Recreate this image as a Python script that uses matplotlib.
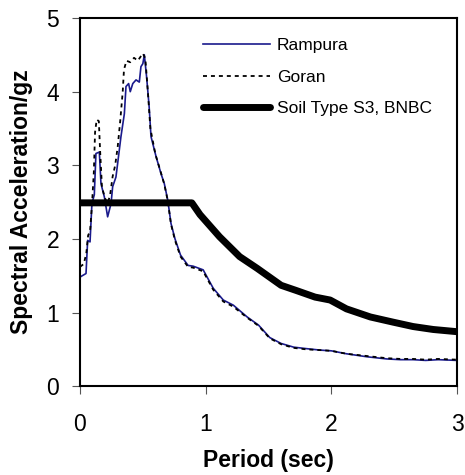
import numpy as np
import matplotlib.pyplot as plt

plt.rcParams['font.family'] = ['Liberation Sans', 'DejaVu Sans']

# Rampura record (period in sec, Sa/g)
ramp_t = [0.0, 0.008, 0.048, 0.061, 0.08, 0.095, 0.114, 0.127, 0.154, 0.167, 0.194,
          0.22, 0.247, 0.26, 0.286, 0.30, 0.326, 0.353, 0.366, 0.387, 0.40, 0.42,
          0.446, 0.472, 0.485, 0.50, 0.512, 0.53, 0.55, 0.565, 0.605, 0.644, 0.671,
          0.698, 0.724, 0.756, 0.80, 0.83, 0.86, 0.90, 0.98, 1.06, 1.14, 1.22, 1.33,
          1.42, 1.51, 1.60, 1.70, 1.80, 1.91, 2.0, 2.12, 2.28, 2.44, 2.55, 2.65,
          2.75, 2.85, 3.0]
ramp_sa = [1.48, 1.49, 1.53, 1.98, 1.96, 2.48, 2.60, 3.16, 3.18, 2.75, 2.57,
           2.30, 2.48, 2.71, 2.84, 3.03, 3.39, 3.70, 4.07, 4.11, 4.00, 4.11,
           4.16, 4.13, 4.34, 4.38, 4.50, 4.20, 3.80, 3.39, 3.12, 2.89, 2.75,
           2.53, 2.21, 2.00, 1.78, 1.71, 1.64, 1.63, 1.58, 1.33, 1.17, 1.10, 0.94,
           0.83, 0.66, 0.58, 0.53, 0.51, 0.49, 0.48, 0.44, 0.40, 0.37, 0.36, 0.36,
           0.35, 0.36, 0.35]

# Goran record
gor_t = [0.0, 0.03, 0.05, 0.065, 0.08, 0.095, 0.11, 0.12, 0.133, 0.15, 0.16,
         0.175, 0.2, 0.22, 0.24, 0.26, 0.28, 0.30, 0.32, 0.34, 0.35, 0.37, 0.40,
         0.43, 0.46, 0.50, 0.52, 0.54, 0.56, 0.60, 0.644, 0.671, 0.698, 0.724,
         0.756, 0.80, 0.83, 0.86, 0.90, 0.98, 1.06, 1.14, 1.22, 1.33, 1.42, 1.51,
         1.60, 1.70, 1.80, 1.91, 2.0, 2.12, 2.28, 2.44, 2.55, 2.65, 2.75, 2.85, 3.0]
gor_sa = [1.62, 1.66, 1.80, 2.05, 2.10, 2.45, 2.90, 3.45, 3.62, 3.60, 3.20,
          2.70, 2.55, 2.48, 2.60, 2.85, 3.00, 3.25, 3.60, 4.00, 4.30, 4.42, 4.40,
          4.46, 4.42, 4.52, 4.45, 4.00, 3.50, 3.15, 2.90, 2.74, 2.52, 2.20,
          1.98, 1.76, 1.69, 1.62, 1.61, 1.56, 1.31, 1.15, 1.08, 0.93, 0.82, 0.65,
          0.57, 0.52, 0.50, 0.49, 0.48, 0.44, 0.41, 0.38, 0.37, 0.37, 0.36, 0.37, 0.36]

# BNBC design spectrum, soil type S3
bnbc_t = [0.0, 0.89, 0.955, 1.11, 1.27, 1.41, 1.60, 1.72, 1.87, 1.99, 2.12,
          2.31, 2.49, 2.65, 2.81, 3.0]
bnbc_sa = [2.49, 2.49, 2.33, 2.03, 1.76, 1.60, 1.37, 1.30, 1.21, 1.17, 1.05,
           0.94, 0.87, 0.81, 0.77, 0.74]

fig = plt.figure(figsize=(4.65, 4.75), dpi=100)
ax = fig.add_axes([0.172, 0.187, 0.811, 0.775])

ax.plot(ramp_t, ramp_sa, color='#1a1a8c', lw=1.2, label='Rampura')
ax.plot(gor_t, gor_sa, color='black', lw=1.3, dashes=(2.2, 2.2), label='Goran')
ax.plot(bnbc_t, bnbc_sa, color='black', lw=5, solid_capstyle='round', label='Soil Type S3, BNBC')

ax.set_xlim(0, 3)
ax.set_ylim(0, 5)
ax.set_xticks([0, 1, 2, 3])
ax.set_yticks([0, 1, 2, 3, 4, 5])
ax.tick_params(direction='out', length=6, width=0.8, labelsize=16.5, color='#555555')
ax.tick_params(axis='x', pad=13)
ax.tick_params(axis='y', pad=9)
for s in ax.spines.values():
    s.set_linewidth(1.5)

ax.set_xlabel('Period (sec)', fontsize=16.5, fontweight='bold', labelpad=10)
ax.set_ylabel('Spectral Acceleration/gz', fontsize=16.5, fontweight='bold', labelpad=10)

ax.legend(loc='upper left', bbox_to_anchor=(0.326, 0.946), frameon=False,
          fontsize=12.5, handlelength=3.85, handletextpad=0.4, labelspacing=0.95,
          borderpad=0, borderaxespad=0)

fig.savefig('out.png', dpi=100)
